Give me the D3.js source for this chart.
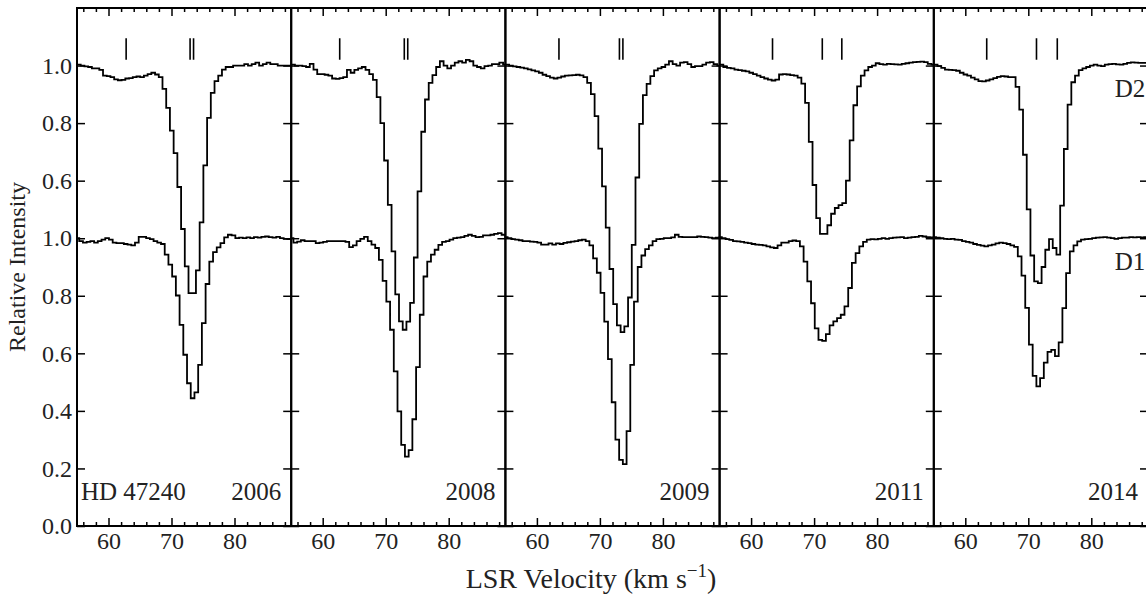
<!DOCTYPE html>
<html>
<head>
<meta charset="utf-8">
<script src="https://cdn.jsdelivr.net/npm/d3@7"></script>
<style>
  body { margin: 0; background: #fff; }
  svg { display: block; }
  text { font-family: "Liberation Serif", "Times New Roman", serif; fill: #222; }
</style>
</head>
<body>
<div id="chart"></div>
<script>
// Na I D2 / D1 profiles toward HD 47240, one panel per epoch.
// D2 is drawn shifted up by 0.6 (its axis labels restart at 0.6).

const years = ['2006', '2008', '2009', '2011', '2014'];
const star = 'HD 47240';

const D2_START = 55.0;     // km/s, first bin edge of the D2 pixels
const D1_START = 54.764;   // km/s, first bin edge of the D1 pixels
const BIN = 0.59;          // km/s per pixel
const D2_OFFSET = 0.6;

const d2_2006 = [1.003, 1.0, 0.997, 0.995, 0.99, 0.99, 0.985, 0.965, 0.963, 0.96, 0.952, 0.949, 0.95, 0.955, 0.956, 0.96, 0.962, 0.96, 0.965, 0.97,
  0.975, 0.969, 0.96, 0.919, 0.853, 0.774, 0.696, 0.578, 0.432, 0.302, 0.209, 0.209, 0.288, 0.455, 0.653, 0.818, 0.905, 0.946, 0.965, 0.986,
  0.995, 0.995, 1.0, 1.0, 1.0, 1.005, 1.0, 1.005, 1.01, 1.0, 1.005, 1.01, 1.005, 1.005, 1.0, 1.0, 1.0, 1.0];
const d1_2006 = [1.0, 0.99, 0.985, 0.987, 0.99, 0.985, 0.99, 0.995, 1.0, 0.995, 0.985, 0.983, 0.983, 0.98, 0.978, 0.975, 0.985, 1.005, 1.005, 1.0,
  0.997, 0.99, 0.985, 0.98, 0.943, 0.908, 0.867, 0.801, 0.699, 0.595, 0.496, 0.444, 0.464, 0.56, 0.705, 0.841, 0.919, 0.952, 0.968, 0.983,
  1.003, 1.012, 1.01, 1.0, 1.002, 1.0, 1.003, 1.0, 1.004, 1.002, 1.005, 1.006, 1.004, 1.002, 1.005, 1.0, 0.998, 0.997, 0.998];

const d2_2008 = [1.003, 1.0, 1.0, 0.998, 0.995, 1.006, 0.986, 0.97, 0.97, 0.968, 0.965, 0.955, 0.954, 0.956, 0.96, 0.985, 0.975, 0.985, 0.99, 0.995,
  0.985, 0.97, 0.95, 0.89, 0.80, 0.67, 0.516, 0.354, 0.205, 0.111, 0.082, 0.11, 0.175, 0.333, 0.563, 0.77, 0.882, 0.94, 0.967, 0.995,
  1.015, 1.0, 0.99, 1.0, 1.01, 1.015, 1.01, 1.02, 1.015, 1.0, 0.995, 0.99, 0.998, 1.0, 1.005, 1.005, 1.01, 1.003];
const d1_2008 = [1.0, 0.985, 0.988, 0.993, 0.99, 0.99, 0.99, 0.983, 0.985, 0.987, 0.99, 0.99, 0.99, 0.99, 0.99, 0.987, 0.969, 0.975, 0.99, 0.998,
  1.005, 0.99, 0.978, 0.966, 0.925, 0.852, 0.78, 0.682, 0.537, 0.398, 0.282, 0.241, 0.264, 0.371, 0.552, 0.734, 0.867, 0.919, 0.943, 0.96,
  0.977, 0.987, 0.99, 0.995, 1.0, 1.002, 1.004, 1.008, 1.012, 1.008, 1.004, 1.005, 1.01, 1.01, 1.012, 1.015, 1.018, 1.012, 1.005];

const d2_2009 = [1.003, 1.0, 0.997, 0.995, 0.993, 0.99, 0.987, 0.983, 0.98, 0.975, 0.968, 0.963, 0.958, 0.955, 0.958, 0.962, 0.965, 0.966, 0.967, 0.968,
  0.966, 0.96, 0.94, 0.901, 0.824, 0.711, 0.58, 0.437, 0.293, 0.171, 0.097, 0.074, 0.094, 0.194, 0.377, 0.611, 0.797, 0.897, 0.936, 0.963,
  0.983, 0.99, 0.995, 1.003, 1.015, 1.005, 1.0, 1.01, 1.012, 1.005, 0.995, 0.998, 0.998, 1.003, 1.01, 1.012, 1.005, 1.0];
const d1_2009 = [1.004, 1.0, 0.997, 0.995, 0.993, 0.99, 0.99, 0.988, 0.987, 0.985, 0.978, 0.978, 0.982, 0.978, 0.982, 0.98, 0.984, 0.986, 0.988, 0.99,
  0.993, 0.995, 0.99, 0.975, 0.93, 0.88, 0.81, 0.71, 0.58, 0.43, 0.30, 0.23, 0.215, 0.33, 0.56, 0.78, 0.90, 0.94, 0.962, 0.975,
  0.99, 0.997, 0.998, 1.0, 1.0, 1.003, 1.012, 1.005, 1.004, 1.004, 1.004, 1.004, 1.006, 1.005, 1.004, 1.002, 1.0, 1.002, 1.004];

const d2_2011 = [1.003, 0.995, 0.992, 0.99, 0.986, 0.984, 0.982, 0.98, 0.975, 0.97, 0.965, 0.96, 0.955, 0.951, 0.948, 0.951, 0.969, 0.97, 0.969, 0.967,
  0.965, 0.958, 0.937, 0.87, 0.735, 0.585, 0.47, 0.415, 0.415, 0.445, 0.485, 0.505, 0.515, 0.522, 0.60, 0.74, 0.862, 0.928, 0.965, 0.983,
  0.995, 1.0, 1.008, 1.005, 1.003, 1.006, 1.005, 1.004, 1.003, 1.006, 1.008, 1.01, 1.012, 1.013, 1.014, 1.012, 1.006, 1.003];
const d1_2011 = [1.004, 1.0, 0.997, 0.994, 0.99, 0.989, 0.987, 0.985, 0.983, 0.98, 0.978, 0.977, 0.975, 0.972, 0.968, 0.966, 0.975, 0.985, 0.985, 0.99,
  0.992, 0.99, 0.972, 0.919, 0.85, 0.774, 0.687, 0.647, 0.643, 0.667, 0.697, 0.711, 0.722, 0.734, 0.763, 0.827, 0.914, 0.948, 0.972, 0.987,
  0.995, 0.997, 0.996, 0.998, 1.0, 0.998, 1.0, 1.002, 1.003, 1.004, 1.0, 1.002, 1.004, 1.005, 1.008, 1.006, 1.004, 1.003, 1.004];

const d2_2014 = [1.003, 0.998, 0.992, 0.986, 0.985, 0.984, 0.982, 0.975, 0.969, 0.965, 0.958, 0.952, 0.946, 0.945, 0.948, 0.952, 0.956, 0.961, 0.963, 0.962,
  0.96, 0.96, 0.926, 0.847, 0.69, 0.50, 0.34, 0.25, 0.244, 0.30, 0.36, 0.397, 0.366, 0.343, 0.513, 0.71, 0.864, 0.942, 0.965, 0.984,
  0.99, 0.995, 1.0, 1.003, 1.0, 0.998, 1.003, 1.005, 1.006, 1.004, 1.003, 1.006, 1.009, 1.011, 1.01, 1.009, 1.009, 1.009];
const d1_2014 = [1.004, 1.002, 1.0, 0.998, 0.997, 0.998, 0.995, 0.994, 0.99, 0.987, 0.985, 0.98, 0.977, 0.974, 0.972, 0.975, 0.978, 0.982, 0.985, 0.983,
  0.98, 0.975, 0.97, 0.937, 0.87, 0.758, 0.63, 0.522, 0.485, 0.514, 0.568, 0.605, 0.612, 0.59, 0.638, 0.757, 0.879, 0.954, 0.975, 0.989,
  0.995, 0.997, 0.998, 1.0, 1.002, 1.003, 1.004, 1.002, 1.0, 0.998, 1.0, 1.002, 1.002, 1.004, 1.003, 1.004, 1.003, 1.004, 1.004];

// velocity components marked above the spectra (km/s)
const comps_2006 = [62.8, 72.95, 73.5];
const comps_2008 = [62.7, 72.95, 73.5];
const comps_2009 = [63.5, 73.1, 73.65];
const comps_2011 = [63.4, 71.3, 74.4];
const comps_2014 = [63.4, 71.3, 74.6];

const xMajor = [60, 70, 80];
const xMinor = [56, 58, 62, 64, 66, 68, 72, 74, 76, 78, 82, 84, 86, 88];
const yTickVals = [0, 0.2, 0.4, 0.6, 0.8, 1.0, 1.2, 1.4, 1.6];
const yTickLabels = ['0.0', '0.2', '0.4', '0.6', '0.8', '1.0', '0.6', '0.8', '1.0'];

const panels = [
  { year: years[0], d2: d2_2006, d1: d1_2006, comps: comps_2006 },
  { year: years[1], d2: d2_2008, d1: d1_2008, comps: comps_2008 },
  { year: years[2], d2: d2_2009, d1: d1_2009, comps: comps_2009 },
  { year: years[3], d2: d2_2011, d1: d1_2011, comps: comps_2011 },
  { year: years[4], d2: d2_2014, d1: d1_2014, comps: comps_2014 },
];

const W = 1146, H = 597;
const LEFT = 77, TOP = 8, BOTTOM = 526;
const PANEL_W = 214.2;
const FONT = 24;

const svg = d3.select('#chart').append('svg')
  .attr('width', W).attr('height', H);

const y = d3.scaleLinear().domain([0, 1.8]).range([BOTTOM, TOP]);

function stepPts(vals, start) {
  const pts = vals.map((v, i) => [start + i * BIN, v]);
  pts.push([start + vals.length * BIN, vals[vals.length - 1]]);
  return pts;
}

panels.forEach((p, i) => {
  const x0 = LEFT + i * PANEL_W;
  const x = d3.scaleLinear().domain([55, 89]).range([x0, x0 + PANEL_W]);
  const g = svg.append('g');

  const clipId = `clip${i}`;
  svg.append('clipPath').attr('id', clipId)
    .append('rect')
    .attr('x', x0).attr('y', TOP)
    .attr('width', PANEL_W).attr('height', BOTTOM - TOP);

  // spectra
  const line = off => d3.line()
    .x(d => x(d[0]))
    .y(d => y(d[1] + off))
    .curve(d3.curveStepAfter);

  const sg = g.append('g').attr('clip-path', `url(#${clipId})`);
  sg.append('path')
    .datum(stepPts(p.d2, D2_START))
    .attr('d', line(D2_OFFSET))
    .attr('fill', 'none').attr('stroke', '#000').attr('stroke-width', 1.8);
  sg.append('path')
    .datum(stepPts(p.d1, D1_START))
    .attr('d', line(0))
    .attr('fill', 'none').attr('stroke', '#000').attr('stroke-width', 1.8);

  // component markers
  sg.selectAll('.comp')
    .data(p.comps)
    .join('line')
    .attr('x1', d => x(d)).attr('x2', d => x(d))
    .attr('y1', y(1.62)).attr('y2', y(1.695))
    .attr('stroke', '#000').attr('stroke-width', 1.6);

  // axes: ticks point inward on all four sides
  const styleAxis = a => {
    a.select('.domain').remove();
    a.selectAll('.tick line').attr('stroke', '#000').attr('stroke-width', 1.5);
    a.selectAll('.tick text')
      .attr('font-size', FONT).attr('fill', '#222');
  };

  g.append('g').attr('transform', `translate(0,${BOTTOM})`)
    .call(d3.axisBottom(x).tickValues(xMajor).tickSize(-8).tickPadding(6).tickFormat(d3.format('d')))
    .call(styleAxis);
  g.append('g').attr('transform', `translate(0,${BOTTOM})`)
    .call(d3.axisBottom(x).tickValues(xMinor).tickSize(-4).tickFormat(''))
    .call(styleAxis);
  g.append('g').attr('transform', `translate(0,${TOP})`)
    .call(d3.axisTop(x).tickValues(xMajor).tickSize(-8).tickFormat(''))
    .call(styleAxis);
  g.append('g').attr('transform', `translate(0,${TOP})`)
    .call(d3.axisTop(x).tickValues(xMinor).tickSize(-4).tickFormat(''))
    .call(styleAxis);

  g.append('g').attr('transform', `translate(${x0},0)`)
    .call(d3.axisLeft(y).tickValues(yTickVals).tickSize(-8).tickPadding(5)
      .tickFormat((d, j) => i === 0 ? yTickLabels[j] : ''))
    .call(styleAxis);
  g.append('g').attr('transform', `translate(${x0 + PANEL_W},0)`)
    .call(d3.axisRight(y).tickValues(yTickVals).tickSize(-8).tickFormat(''))
    .call(styleAxis);

  // frame
  g.append('rect')
    .attr('x', x0).attr('y', TOP)
    .attr('width', PANEL_W).attr('height', BOTTOM - TOP)
    .attr('fill', 'none').attr('stroke', '#000').attr('stroke-width', 2);

  // labels inside the panel
  g.append('text')
    .attr('x', x0 + PANEL_W - 10).attr('y', 500)
    .attr('text-anchor', 'end')
    .attr('font-size', 25)
    .text(p.year);

  if (i === 0) {
    g.append('text')
      .attr('x', x0 + 4).attr('y', 500)
      .attr('font-size', 25)
      .text(star);
  }
  if (i === panels.length - 1) {
    g.append('text').attr('x', x0 + 181).attr('y', 97)
      .attr('font-size', 25).text('D2');
    g.append('text').attr('x', x0 + 181).attr('y', 270)
      .attr('font-size', 25).text('D1');
  }
});

// axis titles
svg.append('text')
  .attr('transform', `translate(25,${(TOP + BOTTOM) / 2}) rotate(-90)`)
  .attr('text-anchor', 'middle')
  .attr('font-size', 24)
  .text('Relative Intensity');

const xt = svg.append('text')
  .attr('x', 591).attr('y', 588)
  .attr('text-anchor', 'middle')
  .attr('font-size', 28);
xt.append('tspan').text('LSR Velocity (km s');
xt.append('tspan').attr('dy', -11).attr('font-size', 19).text('\u22121');
xt.append('tspan').attr('dy', 11).text(')');
</script>
</body>
</html>
